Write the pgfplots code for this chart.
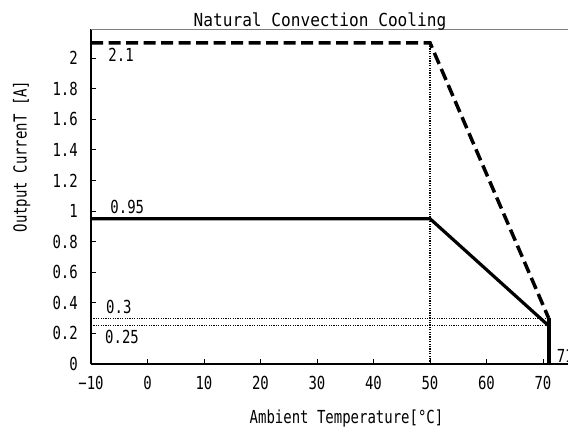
\documentclass[border=0pt]{standalone}
\usepackage{fontspec}
\setmainfont{DejaVu Sans Mono}[FakeStretch=0.78]
\newfontfamily\titlefont{DejaVu Sans Mono}[FakeStretch=0.9]
\usepackage{pgfplots}
\pgfplotsset{compat=1.18}

\begin{document}
\fontsize{18}{21}\selectfont
\begin{tikzpicture}
\useasboundingbox (0,0) rectangle (568bp,430bp);
\begin{axis}[
  at={(91bp,66bp)}, anchor=south west,
  scale only axis, width=508.5bp, height=335bp,
  xmin=-10, xmax=80, ymin=0, ymax=2.19,
  axis x line*=bottom, axis y line*=left,
  axis line style={line width=1.4bp, -},
  every tick/.style={black, line width=0.8bp},
  tick align=inside, major tick length=5bp,
  xtick={-10,0,10,20,30,40,50,60,70},
  xticklabels={−10,0,10,20,30,40,50,60,70},
  ytick={0,0.2,0.4,0.6,0.8,1,1.2,1.4,1.6,1.8,2},
  yticklabels={0,0.2,0.4,0.6,0.8,1,1.2,1.4,1.6,1.8,2},
  xticklabel style={yshift=-6bp},
  yticklabel style={xshift=-7bp},
  clip=false,
]
% reference guides
\addplot[line width=1.2bp, dash pattern=on 1.2bp off 1.2bp] coordinates {(50,0) (50,2.1)};
\addplot[line width=1.2bp, dash pattern=on 1.2bp off 1.2bp] coordinates {(-10,0.3) (71,0.3)};
\addplot[line width=1.2bp, dash pattern=on 1.2bp off 1.2bp] coordinates {(-10,0.25) (71,0.25)};
% derating curves
\addplot[line width=3.5bp, dash pattern=on 12bp off 5.5bp] coordinates {(-10,2.1) (50,2.1) (71,0.3)};
\addplot[line width=3.2bp] coordinates {(-10,0.95) (50,0.95) (71,0.25)};
\addplot[line width=4bp] coordinates {(71,0.3) (71,0)};
\draw[gray, line width=0.8bp] (rel axis cs:0,1) -- (rel axis cs:1,1);
\node[anchor=base west, inner sep=0] at (axis cs:-6.94,1.976) {2.1};
\node[anchor=base west, inner sep=0] at (axis cs:-6.6,0.985) {0.95};
\node[anchor=base west, inner sep=0] at (axis cs:-7.35,0.331) {0.3};
\node[anchor=base west, inner sep=0] at (axis cs:-7.52,0.137) {0.25};
\node[anchor=base west, inner sep=0] at (axis cs:72.4,0.01) {71};
\end{axis}
\node[anchor=base] at (320bp,403bp) {\titlefont Natural Convection Cooling};
\node[anchor=base] at (346.5bp,6.5bp) {Ambient Temperature[°C]};
\node[anchor=base, rotate=90] at (26.7bp,273.5bp) {Output CurrenT [A]};
\end{tikzpicture}
\end{document}
